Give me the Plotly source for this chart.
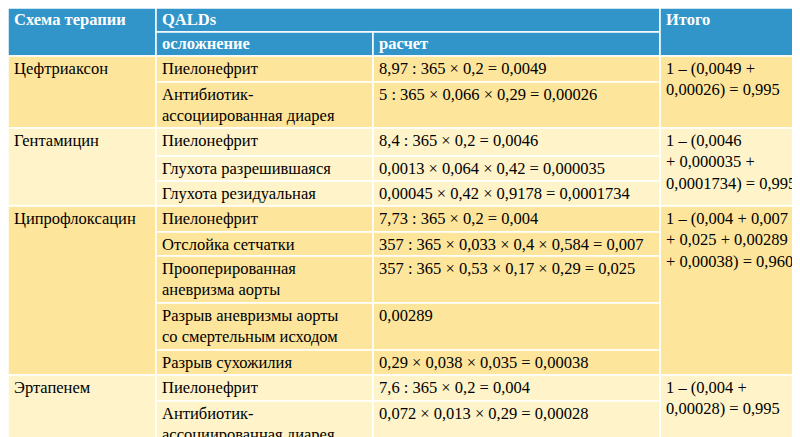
import plotly.graph_objects as go

regimens = ["Цефтриаксон", "Гентамицин", "Ципрофлоксацин", "Эртапенем"]
complications = [
    ["Пиелонефрит", "Антибиотик-<br>ассоциированная диарея"],
    ["Пиелонефрит", "Глухота разрешившаяся", "Глухота резидуальная"],
    ["Пиелонефрит", "Отслойка сетчатки", "Прооперированная<br>аневризма аорты",
     "Разрыв аневризмы аорты<br>со смертельным исходом", "Разрыв сухожилия"],
    ["Пиелонефрит", "Антибиотик-<br>ассоциированная диарея"],
]
calculations = [
    ["8,97 : 365 × 0,2 = 0,0049", "5 : 365 × 0,066 × 0,29 = 0,00026"],
    ["8,4 : 365 × 0,2 = 0,0046", "0,0013 × 0,064 × 0,42 = 0,000035",
     "0,00045 × 0,42 × 0,9178 = 0,0001734"],
    ["7,73 : 365 × 0,2 = 0,004", "357 : 365 × 0,033 × 0,4 × 0,584 = 0,007",
     "357 : 365 × 0,53 × 0,17 × 0,29 = 0,025", "0,00289",
     "0,29 × 0,038 × 0,035 = 0,00038"],
    ["7,6 : 365 × 0,2 = 0,004", "0,072 × 0,013 × 0,29 = 0,00028"],
]
totals = [
    "1 – (0,0049 +<br>0,00026) = 0,995",
    "1 – (0,0046<br>+ 0,000035 +<br>0,0001734) = 0,995",
    "1 – (0,004 + 0,007<br>+ 0,025 + 0,00289<br>+ 0,00038) = 0,960",
    "1 – (0,004 +<br>0,00028) = 0,995",
]
header_top = ["Схема терапии", "QALDs", "Итого"]
header_sub = ["осложнение", "расчет"]

# layout (pixels)
W, H = 800, 437
colx = [0, 148, 365, 652, 800]
row_bounds = [
    [48, 74, 120],
    [120, 148, 173, 198],
    [198, 224, 248, 295, 342, 367],
    [367, 393, 437],
]
group_fill = ["#fde59c", "#fef3c9", "#fde59c", "#fef3c9"]
BLUE = "#3195c9"
FONT = "'Liberation Serif', 'DejaVu Serif', serif"
FS = 16.5

shapes, ann = [], []

def rect(x0, y0, x1, y1, fill):
    shapes.append(dict(type="rect", x0=x0, x1=x1, y0=y0, y1=y1, xref="x", yref="y",
                       fillcolor=fill, line=dict(color="white", width=1.5), layer="below"))

def text(x, y, s, color="black", bold=False):
    if bold:
        s = "<b>" + s + "</b>"
    ann.append(dict(x=x, y=y, xref="x", yref="y", text=s, showarrow=False,
                    xanchor="left", yanchor="top", align="left",
                    font=dict(family=FONT, size=FS, color=color)))

# header
rect(colx[0], 0, colx[1], 48, BLUE)
rect(colx[1], 0, colx[3], 24, BLUE)
rect(colx[1], 24, colx[2], 48, BLUE)
rect(colx[2], 24, colx[3], 48, BLUE)
rect(colx[3], 0, colx[4], 48, BLUE)
text(colx[0] + 4, 0, header_top[0], "white", True)
text(colx[1] + 4, 0, header_top[1], "white", True)
text(colx[3] + 4, 0, header_top[2], "white", True)
text(colx[1] + 4, 24, header_sub[0], "white", True)
text(colx[2] + 4, 24, header_sub[1], "white", True)

for g, reg in enumerate(regimens):
    rb = row_bounds[g]
    fill = group_fill[g]
    rect(colx[0], rb[0], colx[1], rb[-1], fill)
    rect(colx[3], rb[0], colx[4], rb[-1], fill)
    text(colx[0] + 4, rb[0] + 1, reg)
    text(colx[3] + 4, rb[0] + 1, totals[g])
    for i, (c, v) in enumerate(zip(complications[g], calculations[g])):
        rect(colx[1], rb[i], colx[2], rb[i + 1], fill)
        rect(colx[2], rb[i], colx[3], rb[i + 1], fill)
        text(colx[1] + 4, rb[i] + 1, c)
        text(colx[2] + 4, rb[i] + 1, v)

fig = go.Figure(go.Scatter(x=[0, W], y=[0, H], mode="markers", marker=dict(opacity=0),
                           hoverinfo="skip", showlegend=False))
fig.update_layout(
    width=W, height=H, margin=dict(l=0, r=0, t=0, b=0),
    paper_bgcolor="white", plot_bgcolor="white",
    xaxis=dict(range=[0, W], visible=False, fixedrange=True),
    yaxis=dict(range=[H, 0], visible=False, fixedrange=True),
    shapes=shapes, annotations=ann,
)
fig.write_html("out.html")
